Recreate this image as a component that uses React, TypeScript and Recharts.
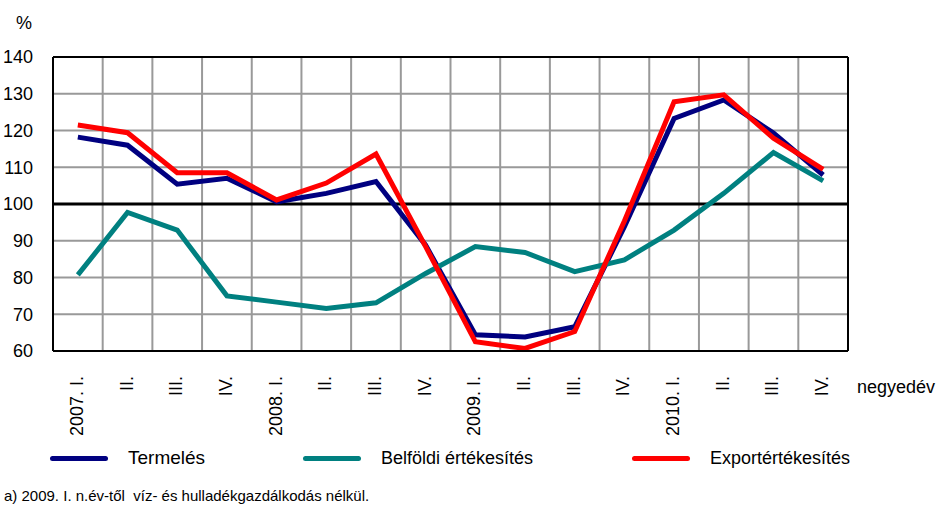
import React from 'react';
import { LineChart, Line, XAxis, YAxis, CartesianGrid, ReferenceLine } from 'recharts';

const quarters = [
  '2007. I.', 'II.', 'III.', 'IV.',
  '2008. I.', 'II.', 'III.', 'IV.',
  '2009. I.', 'II.', 'III.', 'IV.',
  '2010. I.', 'II.', 'III.', 'IV.',
];

const termeles = [118.2, 116, 105.4, 107, 100.6, 102.9, 106.1, 88.8, 64.4, 63.8, 66.6, 93.8, 123.3, 128.3, 119.3, 107.9];
const belfoldi = [80.7, 97.7, 92.9, 75, 73.3, 71.6, 73.1, 81.1, 88.4, 86.8, 81.6, 84.8, 92.9, 102.9, 114, 106.3];
const exportErt = [121.5, 119.4, 108.5, 108.5, 101.1, 105.7, 113.6, 88.4, 62.5, 60.7, 65.3, 95.4, 127.8, 129.7, 117.9, 109.4];

const yTicks = [60, 70, 80, 90, 100, 110, 120, 130, 140];

const series = [
  { key: 'termeles', name: 'Termelés', color: '#000080' },
  { key: 'belfoldi', name: 'Belföldi értékesítés', color: '#008080' },
  { key: 'export', name: 'Exportértékesítés', color: '#FF0000' },
];

// legend item left edges (px)
const legendLeft = [50, 303, 632];

const data = quarters.map((q, i) => ({
  pos: i + 0.5,
  label: q,
  termeles: termeles[i],
  belfoldi: belfoldi[i],
  export: exportErt[i],
}));

const font = "'Liberation Sans', Arial, sans-serif";

const QuarterTick = (props: any) => {
  const { x, y, payload } = props;
  const label = quarters[Math.floor(payload.value)];
  return (
    <text
      transform={`translate(${x + 5},${y + 25}) rotate(-90)`}
      textAnchor="end"
      fontSize={18}
      fontFamily={font}
      fill="#000"
    >
      {label}
    </text>
  );
};

const App: React.FC = () => {
  const boundaries = quarters.map((_, i) => i).slice(1);
  return (
    <div style={{ position: 'absolute', left: 0, top: 0, width: 939, height: 505, background: '#fff', fontFamily: font }}>
      <LineChart width={939} height={505} data={data} margin={{ top: 57, right: 91, left: 0, bottom: 0 }}>
        <CartesianGrid vertical={false} stroke="#999" strokeWidth={2} />
        {boundaries.map((b) => (
          <ReferenceLine key={b} x={b} stroke="#999" strokeWidth={2} />
        ))}
        <ReferenceLine x={16} stroke="#000" strokeWidth={2} />
        <ReferenceLine y={140} stroke="#000" strokeWidth={2} />
        <ReferenceLine y={100} stroke="#000" strokeWidth={3} />
        <XAxis
          dataKey="pos"
          type="number"
          domain={[0, 16]}
          ticks={data.map((d) => d.pos)}
          interval={0}
          height={154}
          tickLine={false}
          tickSize={0}
          tickMargin={0}
          axisLine={{ stroke: '#000', strokeWidth: 2 }}
          tick={<QuarterTick />}
        />
        <YAxis
          domain={[60, 140]}
          ticks={yTicks}
          interval={0}
          width={53}
          tickLine={false}
          tickSize={0}
          tickMargin={20}
          axisLine={{ stroke: '#000', strokeWidth: 2 }}
          tick={{ fill: '#000', fontSize: 18, fontFamily: font }}
        />
        {series.map((s) => (
          <Line
            key={s.key}
            type="linear"
            dataKey={s.key}
            stroke={s.color}
            strokeWidth={5}
            dot={false}
            isAnimationActive={false}
          />
        ))}
      </LineChart>
      <div style={{ position: 'absolute', left: 16, top: 13, fontSize: 18 }}>%</div>
      <div style={{ position: 'absolute', left: 857, top: 377, fontSize: 18 }}>negyedév</div>
      {series.map((s, i) => (
        <div key={s.key} style={{ position: 'absolute', left: legendLeft[i], top: 447, display: 'flex', alignItems: 'center', height: 22 }}>
          <div style={{ width: 58, height: 5, borderRadius: 3, background: s.color, marginRight: 20 }} />
          <span style={{ fontSize: i === 0 ? 19 : 18 }}>{s.name}</span>
        </div>
      ))}
      <div style={{ position: 'absolute', left: 4, top: 487, fontSize: 15, whiteSpace: 'pre' }}>
        a) 2009. I. n.év-től  víz- és hulladékgazdálkodás nélkül.
      </div>
    </div>
  );
};

export default App;
